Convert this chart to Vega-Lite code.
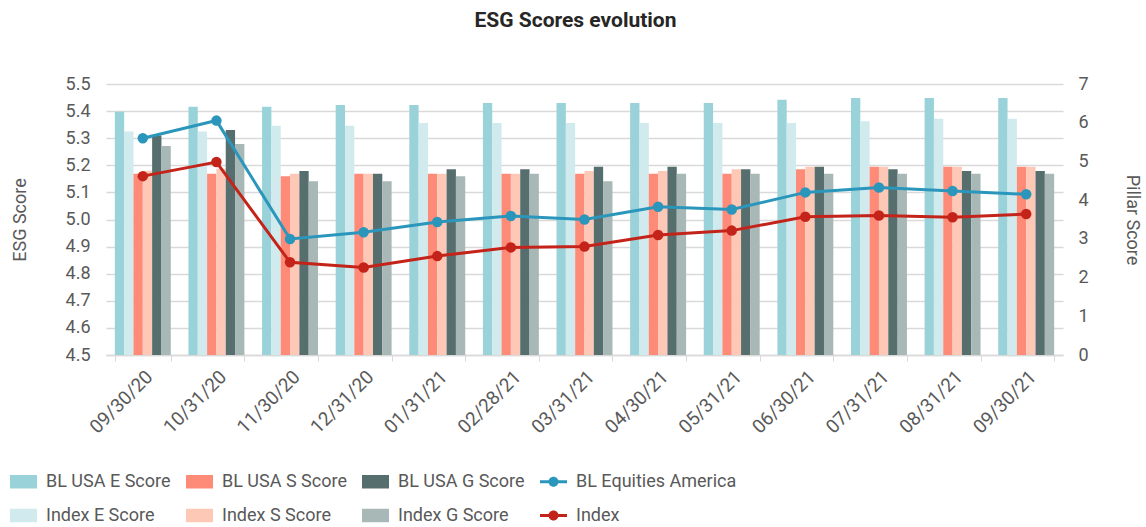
{
  "$schema": "https://vega.github.io/schema/vega-lite/v6.json",
  "autosize": {"type": "none"},
  "padding": {"left": 106, "top": 84, "right": 83, "bottom": 172},
  "width": 957,
  "height": 271,
  "background": "white",
  "config": {
    "font": "Roboto",
    "view": {"stroke": null},
    "axis": {"labelColor": "#595959", "titleColor": "#595959", "labelFont": "Roboto", "titleFont": "Roboto", "titleFontWeight": "normal"},
    "legend": {"labelColor": "#595959", "labelFont": "Roboto"}
  },
  "title": {"text": "ESG Scores evolution", "fontSize": 21, "fontWeight": "bold", "color": "#262626", "anchor": "middle", "offset": 44, "dx": -9, "font": "Roboto"},
  "datasets": {
    "bars": [
      {"date": "09/30/20", "series": "BL USA E Score", "value": 6.28},
      {"date": "09/30/20", "series": "Index E Score", "value": 5.77},
      {"date": "09/30/20", "series": "BL USA S Score", "value": 4.68},
      {"date": "09/30/20", "series": "Index S Score", "value": 4.76},
      {"date": "09/30/20", "series": "BL USA G Score", "value": 5.67},
      {"date": "09/30/20", "series": "Index G Score", "value": 5.40},
      {"date": "10/31/20", "series": "BL USA E Score", "value": 6.41},
      {"date": "10/31/20", "series": "Index E Score", "value": 5.77},
      {"date": "10/31/20", "series": "BL USA S Score", "value": 4.68},
      {"date": "10/31/20", "series": "Index S Score", "value": 4.81},
      {"date": "10/31/20", "series": "BL USA G Score", "value": 5.81},
      {"date": "10/31/20", "series": "Index G Score", "value": 5.45},
      {"date": "11/30/20", "series": "BL USA E Score", "value": 6.41},
      {"date": "11/30/20", "series": "Index E Score", "value": 5.92},
      {"date": "11/30/20", "series": "BL USA S Score", "value": 4.62},
      {"date": "11/30/20", "series": "Index S Score", "value": 4.68},
      {"date": "11/30/20", "series": "BL USA G Score", "value": 4.75},
      {"date": "11/30/20", "series": "Index G Score", "value": 4.49},
      {"date": "12/31/20", "series": "BL USA E Score", "value": 6.46},
      {"date": "12/31/20", "series": "Index E Score", "value": 5.92},
      {"date": "12/31/20", "series": "BL USA S Score", "value": 4.68},
      {"date": "12/31/20", "series": "Index S Score", "value": 4.68},
      {"date": "12/31/20", "series": "BL USA G Score", "value": 4.68},
      {"date": "12/31/20", "series": "Index G Score", "value": 4.49},
      {"date": "01/31/21", "series": "BL USA E Score", "value": 6.46},
      {"date": "01/31/21", "series": "Index E Score", "value": 5.99},
      {"date": "01/31/21", "series": "BL USA S Score", "value": 4.68},
      {"date": "01/31/21", "series": "Index S Score", "value": 4.68},
      {"date": "01/31/21", "series": "BL USA G Score", "value": 4.80},
      {"date": "01/31/21", "series": "Index G Score", "value": 4.62},
      {"date": "02/28/21", "series": "BL USA E Score", "value": 6.51},
      {"date": "02/28/21", "series": "Index E Score", "value": 5.99},
      {"date": "02/28/21", "series": "BL USA S Score", "value": 4.68},
      {"date": "02/28/21", "series": "Index S Score", "value": 4.68},
      {"date": "02/28/21", "series": "BL USA G Score", "value": 4.80},
      {"date": "02/28/21", "series": "Index G Score", "value": 4.68},
      {"date": "03/31/21", "series": "BL USA E Score", "value": 6.51},
      {"date": "03/31/21", "series": "Index E Score", "value": 5.99},
      {"date": "03/31/21", "series": "BL USA S Score", "value": 4.68},
      {"date": "03/31/21", "series": "Index S Score", "value": 4.75},
      {"date": "03/31/21", "series": "BL USA G Score", "value": 4.86},
      {"date": "03/31/21", "series": "Index G Score", "value": 4.49},
      {"date": "04/30/21", "series": "BL USA E Score", "value": 6.51},
      {"date": "04/30/21", "series": "Index E Score", "value": 5.99},
      {"date": "04/30/21", "series": "BL USA S Score", "value": 4.68},
      {"date": "04/30/21", "series": "Index S Score", "value": 4.75},
      {"date": "04/30/21", "series": "BL USA G Score", "value": 4.86},
      {"date": "04/30/21", "series": "Index G Score", "value": 4.68},
      {"date": "05/31/21", "series": "BL USA E Score", "value": 6.51},
      {"date": "05/31/21", "series": "Index E Score", "value": 5.99},
      {"date": "05/31/21", "series": "BL USA S Score", "value": 4.68},
      {"date": "05/31/21", "series": "Index S Score", "value": 4.80},
      {"date": "05/31/21", "series": "BL USA G Score", "value": 4.80},
      {"date": "05/31/21", "series": "Index G Score", "value": 4.68},
      {"date": "06/30/21", "series": "BL USA E Score", "value": 6.59},
      {"date": "06/30/21", "series": "Index E Score", "value": 5.99},
      {"date": "06/30/21", "series": "BL USA S Score", "value": 4.80},
      {"date": "06/30/21", "series": "Index S Score", "value": 4.86},
      {"date": "06/30/21", "series": "BL USA G Score", "value": 4.86},
      {"date": "06/30/21", "series": "Index G Score", "value": 4.68},
      {"date": "07/31/21", "series": "BL USA E Score", "value": 6.64},
      {"date": "07/31/21", "series": "Index E Score", "value": 6.04},
      {"date": "07/31/21", "series": "BL USA S Score", "value": 4.86},
      {"date": "07/31/21", "series": "Index S Score", "value": 4.86},
      {"date": "07/31/21", "series": "BL USA G Score", "value": 4.80},
      {"date": "07/31/21", "series": "Index G Score", "value": 4.68},
      {"date": "08/31/21", "series": "BL USA E Score", "value": 6.64},
      {"date": "08/31/21", "series": "Index E Score", "value": 6.10},
      {"date": "08/31/21", "series": "BL USA S Score", "value": 4.86},
      {"date": "08/31/21", "series": "Index S Score", "value": 4.86},
      {"date": "08/31/21", "series": "BL USA G Score", "value": 4.75},
      {"date": "08/31/21", "series": "Index G Score", "value": 4.68},
      {"date": "09/30/21", "series": "BL USA E Score", "value": 6.64},
      {"date": "09/30/21", "series": "Index E Score", "value": 6.10},
      {"date": "09/30/21", "series": "BL USA S Score", "value": 4.86},
      {"date": "09/30/21", "series": "Index S Score", "value": 4.86},
      {"date": "09/30/21", "series": "BL USA G Score", "value": 4.75},
      {"date": "09/30/21", "series": "Index G Score", "value": 4.68}
    ],
    "lines": [
      {"date": "09/30/20", "series": "BL Equities America", "value": 5.30},
      {"date": "10/31/20", "series": "BL Equities America", "value": 5.365},
      {"date": "11/30/20", "series": "BL Equities America", "value": 4.928},
      {"date": "12/31/20", "series": "BL Equities America", "value": 4.953},
      {"date": "01/31/21", "series": "BL Equities America", "value": 4.991},
      {"date": "02/28/21", "series": "BL Equities America", "value": 5.013},
      {"date": "03/31/21", "series": "BL Equities America", "value": 5.00},
      {"date": "04/30/21", "series": "BL Equities America", "value": 5.047},
      {"date": "05/31/21", "series": "BL Equities America", "value": 5.037},
      {"date": "06/30/21", "series": "BL Equities America", "value": 5.10},
      {"date": "07/31/21", "series": "BL Equities America", "value": 5.118},
      {"date": "08/31/21", "series": "BL Equities America", "value": 5.105},
      {"date": "09/30/21", "series": "BL Equities America", "value": 5.093},
      {"date": "09/30/20", "series": "Index", "value": 5.16},
      {"date": "10/31/20", "series": "Index", "value": 5.212},
      {"date": "11/30/20", "series": "Index", "value": 4.842},
      {"date": "12/31/20", "series": "Index", "value": 4.823},
      {"date": "01/31/21", "series": "Index", "value": 4.865},
      {"date": "02/28/21", "series": "Index", "value": 4.897},
      {"date": "03/31/21", "series": "Index", "value": 4.90},
      {"date": "04/30/21", "series": "Index", "value": 4.943},
      {"date": "05/31/21", "series": "Index", "value": 4.959},
      {"date": "06/30/21", "series": "Index", "value": 5.01},
      {"date": "07/31/21", "series": "Index", "value": 5.015},
      {"date": "08/31/21", "series": "Index", "value": 5.008},
      {"date": "09/30/21", "series": "Index", "value": 5.02}
    ]
  },
  "resolve": {"scale": {"y": "independent"}, "axis": {"y": "independent"}},
  "layer": [
    {
      "data": {"name": "bars"},
      "mark": {"type": "bar"},
      "encoding": {
        "x": {
          "field": "date", "type": "nominal", "sort": null,
          "scale": {"paddingInner": 0.24, "paddingOuter": 0.12},
          "axis": {"title": null, "labelAngle": -45, "labelFontSize": 19, "labelPadding": 6, "tickBand": "extent", "tickSize": 6, "tickColor": "#d9d9d9", "domainColor": "#d9d9d9", "domainWidth": 1.5, "grid": false}
        },
        "xOffset": {
          "field": "series", "type": "nominal",
          "scale": {"domain": ["BL USA E Score", "Index E Score", "BL USA S Score", "Index S Score", "BL USA G Score", "Index G Score"], "paddingInner": 0, "paddingOuter": 0}
        },
        "y": {
          "field": "value", "type": "quantitative",
          "scale": {"domain": [0, 7], "nice": false},
          "axis": {"orient": "right", "title": "Pillar Score", "titleFontSize": 18, "labelFontSize": 18, "values": [0,1,2,3,4,5,6,7], "labelOverlap": false, "labelFlush": false, "grid": false, "domain": false, "ticks": false, "labelPadding": 15, "titlePadding": 34}
        },
        "color": {
          "field": "series", "type": "nominal",
          "scale": {
            "domain": ["BL USA E Score", "BL USA S Score", "BL USA G Score", "BL Equities America", "Index E Score", "Index S Score", "Index G Score", "Index"],
            "range": ["#9ad2d9", "#fe8a78", "#566f6e", "#2b96bb", "#d0eaee", "#fec8b6", "#a8b8b7", "#c4231a"]
          },
          "legend": {
            "title": null, "orient": "none", "legendX": -96, "legendY": 384, "columns": 4, "direction": "horizontal",
            "labelFontSize": 18, "labelOffset": 9, "labelLimit": 400, "columnPadding": 15, "rowPadding": 11,
            "symbolType": "M-1,-0.5L1,-0.5L1,0.5L-1,0.5Z", "symbolSize": 729,
            "encode": {
              "symbols": {
                "update": {
                  "shape": {"signal": "(datum.value === 'BL Equities America' || datum.value === 'Index') ? 'M-1,-0.11L1,-0.11L1,0.11L-1,0.11Z M0.37,0A0.37,0.37 0 1,1 -0.37,0A0.37,0.37 0 1,1 0.37,0Z' : 'M-1,-0.5L1,-0.5L1,0.5L-1,0.5Z'"},
                  "fill": {"scale": "color", "field": "value"},
                  "strokeWidth": {"value": 0},
                  "opacity": {"value": 1},
                  "fillOpacity": {"value": 1}
                }
              }
            }
          }
        }
      }
    },
    {
      "data": {"name": "lines"},
      "mark": {"type": "line", "strokeWidth": 3},
      "encoding": {
        "x": {"field": "date", "type": "nominal", "sort": null},
        "y": {
          "field": "value", "type": "quantitative",
          "scale": {"domain": [4.5, 5.5], "nice": false},
          "axis": {"orient": "left", "title": "ESG Score", "titleFontSize": 18, "labelFontSize": 18, "values": [4.5,4.6,4.7,4.8,4.9,5.0,5.1,5.2,5.3,5.4,5.5], "format": ".1f", "labelOverlap": false, "labelFlush": false, "grid": true, "gridColor": "#d9d9d9", "gridWidth": 1.5, "domain": false, "ticks": false, "labelPadding": 16, "titlePadding": 36}
        },
        "color": {"field": "series", "type": "nominal"}
      }
    },
    {
      "data": {"name": "lines"},
      "mark": {"type": "point", "filled": true, "size": 110, "opacity": 1},
      "encoding": {
        "x": {"field": "date", "type": "nominal", "sort": null},
        "y": {"field": "value", "type": "quantitative", "scale": {"domain": [4.5, 5.5], "nice": false}, "axis": null},
        "color": {"field": "series", "type": "nominal"}
      }
    }
  ]
}
